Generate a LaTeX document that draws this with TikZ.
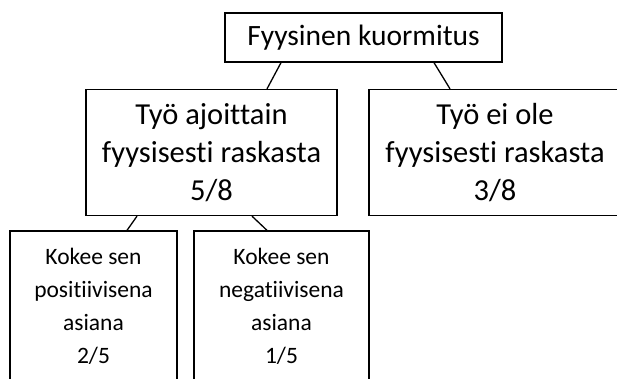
\documentclass[tikz,border=0pt]{standalone}
\usepackage{fontspec}
\setmainfont[Ligatures={NoCommon}]{Carlito}
\begin{document}
\begin{tikzpicture}[x=1pt,y=-1pt,
  box/.style={draw=black,line width=1.3pt,align=center,inner sep=0pt},
  link/.style={draw=black,line width=1.3pt}]
\useasboundingbox (0,0) rectangle (617,378);
\clip (0,0) rectangle (617,378);
% root
\node[box,minimum width=277pt,minimum height=49pt,font=\fontsize{29.5}{36}\selectfont] (root) at (363.5,37.5) {Fyysinen kuormitus};
% second level
\node[box,minimum width=251pt,minimum height=126pt,font=\fontsize{30.5}{38}\selectfont] (heavy) at (211.5,152.5) {Työ ajoittain\\fyysisesti raskasta\\5/8};
\node[box,minimum width=252pt,minimum height=126pt,font=\fontsize{30.5}{38}\selectfont] (light) at (495,152.5) {Työ ei ole\\fyysisesti raskasta\\3/8};
% third level
\node[box,minimum width=167pt,minimum height=150pt,font=\fontsize{23.5}{33}\selectfont] (pos) at (93.5,306) {Kokee sen\\positiivisena\\asiana\\2/5};
\node[box,minimum width=175pt,minimum height=150pt,font=\fontsize{23.5}{33}\selectfont] (neg) at (281.5,306) {Kokee sen\\negatiivisena\\asiana\\1/5};
% connectors
\draw[link] ([xshift=-82.5pt]root.south) -- ([xshift=55.5pt]heavy.north);
\draw[link] ([xshift=70.5pt]root.south) -- ([xshift=-45pt]light.north);
\draw[link] ([xshift=-74.5pt]heavy.south) -- ([xshift=33.5pt]pos.north);
\draw[link] ([xshift=40.5pt]heavy.south) -- ([xshift=-14.5pt]neg.north);
\end{tikzpicture}
\end{document}
